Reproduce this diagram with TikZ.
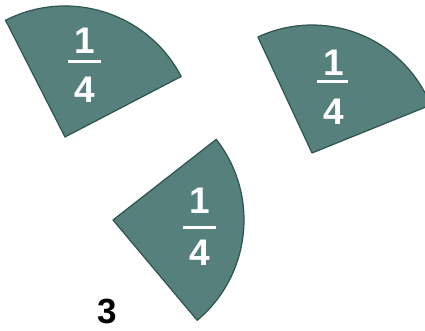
\documentclass[tikz,border=0pt]{standalone}
\usepackage{fontspec}
\setmainfont{Liberation Sans}
\definecolor{sectfill}{RGB}{86,128,123}
\definecolor{sectline}{RGB}{45,85,80}
\begin{document}
\begin{tikzpicture}[x=1pt,y=1pt,
  sector/.style={fill=sectfill,draw=sectline,line width=1.2pt,line join=round},
  digit/.style={text=white,inner sep=0pt,font=\bfseries\fontsize{37}{37}\selectfont},
  fracbar/.style={draw=white,line width=3pt},
  lbl/.style={text=black,inner sep=0pt,font=\bfseries\fontsize{35}{35}\selectfont}]
\useasboundingbox (0,0) rectangle (425,331);
% sector 1 (top left)
\coordinate (c1) at (65,194);
\draw[sector] (c1) -- ++(27.5:131) arc[start angle=27.5,end angle=117,radius=131] -- cycle;
% sector 2 (top right)
\coordinate (c2) at (312,178);
\draw[sector] (c2) -- ++(22:128) arc[start angle=22,end angle=115,radius=128] -- cycle;
% sector 3 (bottom)
\coordinate (c3) at (113,111);
\draw[sector] (c3) -- ++(-50:131) arc[start angle=-50,end angle=38,radius=131] -- cycle;
% labels
\node[digit] (n1) at (85,290) {1};
\node[digit] (d1) at (85,241) {4};
\coordinate (b1l) at (68,269); \coordinate (b1r) at (101,269);
\draw[fracbar] (b1l) -- (b1r);
\node[digit] (n2) at (334,268) {1};
\node[digit] (d2) at (334,219) {4};
\coordinate (b2l) at (317,249); \coordinate (b2r) at (348,249);
\draw[fracbar] (b2l) -- (b2r);
\node[digit] (n3) at (200,130) {1};
\node[digit] (d3) at (200,78) {4};
\coordinate (b3l) at (183,103); \coordinate (b3r) at (216,103);
\draw[fracbar] (b3l) -- (b3r);
% bottom-left number
\node[lbl] (three) at (107,20) {3};
\end{tikzpicture}
\end{document}
